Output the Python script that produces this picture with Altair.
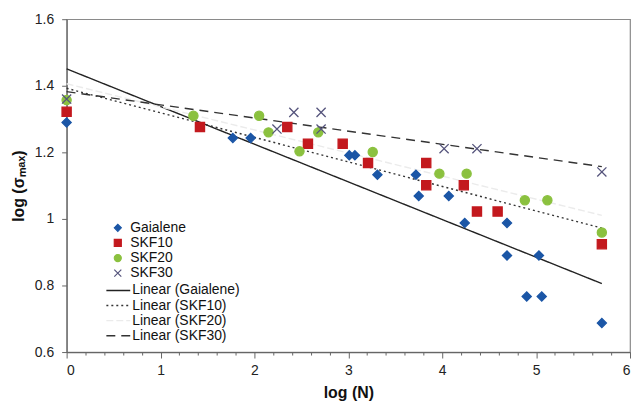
import altair as alt
import pandas as pd

# ---- data ----
series_names = ["Gaialene", "SKF10", "SKF20", "SKF30"]

gaialene_x = [0.00, 1.77, 1.96, 3.01, 3.07, 3.31, 3.72, 3.75, 4.07, 4.24, 4.69, 4.69, 4.90, 5.03, 5.06, 5.70]
gaialene_y = [1.290, 1.243, 1.243, 1.191, 1.191, 1.133, 1.133, 1.069, 1.069, 0.988, 0.988, 0.890, 0.767, 0.890, 0.767, 0.687]

skf10_x = [0.00, 1.42, 2.35, 2.57, 2.94, 3.21, 3.83, 3.83, 4.23, 4.37, 4.59, 5.70]
skf10_y = [1.322, 1.276, 1.276, 1.226, 1.226, 1.168, 1.168, 1.101, 1.101, 1.022, 1.022, 0.924]

skf20_x = [0.00, 1.35, 2.05, 2.15, 2.48, 2.68, 3.26, 3.97, 4.26, 4.88, 5.12, 5.70]
skf20_y = [1.357, 1.310, 1.310, 1.260, 1.203, 1.260, 1.201, 1.136, 1.136, 1.056, 1.056, 0.959]

skf30_x = [0.00, 2.24, 2.42, 2.71, 2.71, 4.02, 4.37, 5.70]
skf30_y = [1.360, 1.270, 1.320, 1.320, 1.270, 1.211, 1.211, 1.141]

x_ticks = [round(i * 0.2, 1) for i in range(31)]
y_ticks = [0.6, 0.8, 1.0, 1.2, 1.4, 1.6]

trend_names = ["Linear (" + s + ")" for s in series_names]

point_colors = ["#1b56a6", "#c3191e", "#8bc13f", "#55547c"]
point_shapes = ["diamond", "square", "circle", "M-1,-1L1,1M-1,1L1,-1"]
trend_colors = ["#222222", "#333333", "#ebebeb", "#333333"]
trend_dashes = [[1, 0], [2, 3], [7, 3], [9, 6]]

rows = []
for name, xs, ys in zip(series_names,
                        [gaialene_x, skf10_x, skf20_x, skf30_x],
                        [gaialene_y, skf10_y, skf20_y, skf30_y]):
    for xv, yv in zip(xs, ys):
        rows.append({"series": name, "x": xv, "y": yv})
df = pd.DataFrame(rows)

FONT = "Liberation Sans"

x_enc = alt.X(
    "x:Q",
    scale=alt.Scale(domain=[0, 6], nice=False),
    axis=alt.Axis(
        values=x_ticks,
        labelExpr="datum.value % 1 === 0 ? format(datum.value, 'd') : ''",
        tickSize={"condition": {"test": "datum.value % 1 === 0", "value": 6}, "value": 3},
        labelPadding=6,
        labelOverlap=False,
        title="log (N)",
        titlePadding=7,
        grid=False,
    ),
)
y_enc = alt.Y(
    "y:Q",
    scale=alt.Scale(domain=[0.6, 1.6], nice=False),
    axis=alt.Axis(
        values=y_ticks,
        format="~g",
        tickSize=5,
        labelPadding=8,
        title="log (σₘₐₓ)",
        titlePadding=8,
        grid=False,
    ),
)

leg_pts = alt.Legend(
    title=None, orient="none", legendX=44.5, legendY=203,
    labelFont=FONT, labelFontSize=14, labelColor="#111",
    labelOffset=5.5, rowPadding=1.2, padding=0, symbolStrokeWidth=1.2,
    symbolSize=50,
)
leg_lines = alt.Legend(
    title=None, orient="none", legendX=45, legendY=266,
    labelFont=FONT, labelFontSize=14, labelColor="#111",
    labelOffset=7, rowPadding=1.2, padding=0, symbolSize=144,
    symbolStrokeWidth=1.4, symbolType="M-2,0L2,0",
)

base = alt.Chart(df)

lines = base.transform_regression(
    "x", "y", groupby=["series"]
).transform_calculate(
    trend='"Linear (" + datum.series + ")"'
).mark_line(strokeWidth=1.4).encode(
    x=x_enc,
    y=y_enc,
    color=alt.Color("trend:N", scale=alt.Scale(domain=trend_names, range=trend_colors), legend=leg_lines),
    strokeDash=alt.StrokeDash("trend:N", scale=alt.Scale(domain=trend_names, range=trend_dashes), legend=leg_lines),
)

points = base.mark_point(filled=True, opacity=1, strokeWidth=1.3, size=85).encode(
    x=x_enc,
    y=y_enc,
    fill=alt.Fill("series:N", scale=alt.Scale(domain=series_names, range=point_colors), legend=leg_pts),
    stroke=alt.Stroke("series:N", scale=alt.Scale(domain=series_names, range=point_colors), legend=leg_pts),
    shape=alt.Shape("series:N", scale=alt.Scale(domain=series_names, range=point_shapes), legend=leg_pts),
)

chart = alt.layer(lines, points).properties(
    width=567,
    height=335,
    autosize=alt.AutoSizeParams(type="none"),
    padding={"left": 59, "top": 10, "right": 2, "bottom": 50},
).configure_view(
    stroke="#8a8a8a", strokeWidth=1.2
).configure_axis(
    labelFont=FONT, labelFontSize=14, labelColor="#222",
    titleFont=FONT, titleFontSize=16, titleFontWeight="bold", titleColor="#111",
    domainColor="#666", tickColor="#666", domainWidth=1.2,
)

chart.save("out.html", embed_options={"renderer": "svg", "actions": False})
